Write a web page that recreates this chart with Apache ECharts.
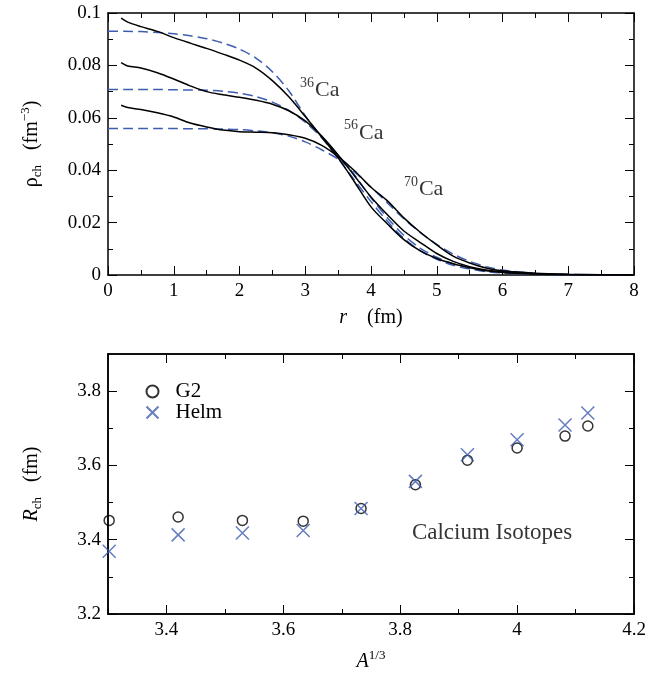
<!DOCTYPE html>
<html><head><meta charset="utf-8">
<script src="https://cdn.jsdelivr.net/npm/echarts@6/dist/echarts.min.js"></script>
<style>html,body{margin:0;padding:0;background:#fff}#c{width:660px;height:673px}</style>
</head><body><div id="c"></div>
<script>
// ---- Top panel: charge densities (r in fm, rho in fm^-3) ----
const rSolid = [0.2,0.3,0.5,0.75,1.0,1.25,1.5,1.75,2.0,2.25,2.5,2.75,3.0,3.25,3.5,3.75,4.0,4.25,4.5,4.75,5.0,5.25,5.5,5.75,6.0,6.5,7.0,7.5,8.0];
const rhoG2_36 = [0.098,0.0965,0.0948,0.093,0.0906,0.0885,0.0865,0.0843,0.082,0.079,0.0742,0.068,0.0605,0.0527,0.0447,0.0355,0.026,0.0195,0.0135,0.0092,0.0063,0.0043,0.0028,0.0016,0.0010,0.0004,0.0001,0,0];
const rhoG2_56 = [0.0811,0.0798,0.079,0.0772,0.0748,0.0722,0.0700,0.0688,0.0678,0.0667,0.0652,0.0627,0.0588,0.053,0.0458,0.0378,0.0298,0.023,0.0168,0.0124,0.0082,0.0052,0.0032,0.0019,0.0012,0.0005,0.0002,0.0001,0];
const rhoG2_70 = [0.0648,0.0639,0.0632,0.0619,0.0603,0.058,0.0565,0.0553,0.0547,0.0545,0.0543,0.0535,0.0522,0.0495,0.0452,0.0398,0.0335,0.0283,0.0218,0.0163,0.0115,0.0072,0.0046,0.0027,0.0016,0.0007,0.0003,0.0001,0];
const rHelm = [0,0.25,0.5,0.75,1.0,1.25,1.5,1.75,2.0,2.25,2.5,2.75,3.0,3.25,3.5,3.75,4.0,4.25,4.5,4.75,5.0,5.25,5.5,5.75,6.0,6.5,7.0,7.5,8.0];
const rhoHelm36 = [0.093,0.093,0.0929,0.0926,0.0921,0.0913,0.0902,0.0885,0.0862,0.0828,0.0776,0.0703,0.0608,0.0525,0.0445,0.0362,0.028,0.0205,0.014,0.0092,0.006,0.0037,0.0023,0.0013,0.0008,0.0003,0.0001,0,0];
const rhoHelm56 = [0.0708,0.0708,0.0708,0.0708,0.0707,0.0706,0.0705,0.0701,0.0694,0.0681,0.066,0.0628,0.0583,0.0525,0.0458,0.0382,0.0295,0.0218,0.0152,0.0102,0.0068,0.0043,0.0027,0.0016,0.0009,0.0003,0.0001,0,0];
const rhoHelm70 = [0.0559,0.0559,0.0559,0.0559,0.0559,0.0558,0.0558,0.0557,0.0555,0.055,0.0543,0.053,0.0508,0.0478,0.0442,0.0393,0.0335,0.0275,0.0215,0.0162,0.0117,0.008,0.0052,0.0032,0.0019,0.0006,0.0002,0.0001,0];
const isoMass = ['36','56','70'];
const isoLabelR = [2.92,3.59,4.5];
const isoLabelRho = [0.0705,0.0543,0.0327];

// ---- Bottom panel: charge radii vs A^(1/3) ----
const aThird = [3.302,3.420,3.530,3.634,3.733,3.826,3.915,4.000,4.082,4.121];
const rchG2 = [3.452,3.461,3.452,3.450,3.484,3.548,3.614,3.647,3.679,3.706];
const rchHelm = [3.369,3.413,3.418,3.425,3.484,3.557,3.629,3.669,3.709,3.741];
const botXMajor = [3.4,3.6,3.8,4.0,4.2];
const botXMinor = [3.3,3.5,3.7,3.9,4.1];
const botYMajor = [3.2,3.4,3.6,3.8];
const botYMinor = [3.3,3.5,3.7];
const panelText = 'Calcium Isotopes';
const panelTextPos = [3.82, 3.417];

const FONT = 'Liberation Serif';
const BLUE = '#3d5db0';
const zip = (a, b) => a.map((v, i) => [v, b[i]]);

const lineAx = {onZero: false, lineStyle: {color: '#000', width: 1.5}};
const tickIn = (len) => ({show: true, inside: true, length: len, lineStyle: {color: '#000', width: 1}});
const minorT = {show: true, splitNumber: 2, length: 5, lineStyle: {color: '#000', width: 1}};
const lab = {color: '#000', fontFamily: FONT, fontSize: 19, margin: 7};
const rich = {
  n: {fontFamily: FONT, fontSize: 20, color: '#000'},
  i: {fontFamily: FONT, fontSize: 20, color: '#000', fontStyle: 'italic'},
  sub: {fontFamily: FONT, fontSize: 13, color: '#000', padding: [11, 0, 0, 0]},
  sup: {fontFamily: FONT, fontSize: 13, color: '#000', padding: [0, 0, 13, 0]}
};

const G = [{left: 108, right: 26, top: 13, height: 262}, {left: 108, right: 26, top: 354, height: 261}];

const xAxis = [
  {gridIndex: 0, type: 'value', position: 'bottom', min: 0, max: 8, interval: 1,
   axisLine: lineAx, axisTick: tickIn(9), minorTick: minorT,
   splitLine: {show: false}, axisLabel: lab,
   name: '{i|r}{n|    (fm)}', nameLocation: 'middle', nameGap: 33, nameTextStyle: {rich}},
  {gridIndex: 0, type: 'value', position: 'top', min: 0, max: 8, interval: 1,
   axisLine: lineAx, axisTick: tickIn(9), minorTick: minorT,
   splitLine: {show: false}, axisLabel: {show: false}},
  {gridIndex: 1, type: 'value', position: 'bottom', min: 3.3, max: 4.2,
   axisLine: lineAx, axisTick: Object.assign(tickIn(9), {customValues: botXMajor}),
   splitLine: {show: false}, axisLabel: Object.assign({customValues: botXMajor}, lab),
   name: '{i|A}{sup|1/3}', nameLocation: 'middle', nameGap: 35, nameTextStyle: {rich}},
  {gridIndex: 1, type: 'value', position: 'bottom', min: 3.3, max: 4.2,
   axisLine: lineAx, axisTick: Object.assign(tickIn(5), {customValues: botXMinor}),
   splitLine: {show: false}, axisLabel: {show: false}},
  {gridIndex: 1, type: 'value', position: 'top', min: 3.3, max: 4.2,
   axisLine: lineAx, axisTick: Object.assign(tickIn(9), {customValues: botXMajor}),
   splitLine: {show: false}, axisLabel: {show: false}},
  {gridIndex: 1, type: 'value', position: 'top', min: 3.3, max: 4.2,
   axisLine: lineAx, axisTick: Object.assign(tickIn(5), {customValues: botXMinor}),
   splitLine: {show: false}, axisLabel: {show: false}}
];
const yAxis = [
  {gridIndex: 0, type: 'value', position: 'left', min: 0, max: 0.1, interval: 0.02,
   axisLine: lineAx, axisTick: tickIn(9), minorTick: minorT,
   splitLine: {show: false}, axisLabel: lab,
   name: '{n|ρ}{sub|ch}{n|   (fm}{sup|−3}{n|)}', nameLocation: 'middle', nameGap: 63, nameRotate: 90, nameTextStyle: {rich}},
  {gridIndex: 0, type: 'value', position: 'right', min: 0, max: 0.1, interval: 0.02,
   axisLine: lineAx, axisTick: tickIn(9), minorTick: minorT,
   splitLine: {show: false}, axisLabel: {show: false}},
  {gridIndex: 1, type: 'value', position: 'left', min: 3.2, max: 3.9,
   axisLine: lineAx, axisTick: Object.assign(tickIn(9), {customValues: botYMajor}),
   splitLine: {show: false}, axisLabel: Object.assign({customValues: botYMajor}, lab),
   name: '{i|R}{sub|ch}{n|   (fm)}', nameLocation: 'middle', nameGap: 64, nameRotate: 90, nameTextStyle: {rich}},
  {gridIndex: 1, type: 'value', position: 'left', min: 3.2, max: 3.9,
   axisLine: lineAx, axisTick: Object.assign(tickIn(5), {customValues: botYMinor}),
   splitLine: {show: false}, axisLabel: {show: false}},
  {gridIndex: 1, type: 'value', position: 'right', min: 3.2, max: 3.9,
   axisLine: lineAx, axisTick: Object.assign(tickIn(9), {customValues: botYMajor}),
   splitLine: {show: false}, axisLabel: {show: false}},
  {gridIndex: 1, type: 'value', position: 'right', min: 3.2, max: 3.9,
   axisLine: lineAx, axisTick: Object.assign(tickIn(5), {customValues: botYMinor}),
   splitLine: {show: false}, axisLabel: {show: false}}
];

const solidLine = (name, ys) => ({name, type: 'line', xAxisIndex: 0, yAxisIndex: 0, data: zip(rSolid, ys),
  showSymbol: false, smooth: 0.3, lineStyle: {color: '#000', width: 1.5}, z: 3});
const helmLine = (name, ys) => ({name, type: 'line', xAxisIndex: 0, yAxisIndex: 0, data: zip(rHelm, ys),
  showSymbol: false, smooth: 0.3, lineStyle: {color: BLUE, width: 1.5, type: [10, 5]}, z: 2});

const series = [
  helmLine('Helm 36', rhoHelm36), helmLine('Helm 56', rhoHelm56), helmLine('Helm 70', rhoHelm70),
  solidLine('G2 36', rhoG2_36), solidLine('G2 56', rhoG2_56), solidLine('G2 70', rhoG2_70),
  {type: 'scatter', xAxisIndex: 0, yAxisIndex: 0, symbolSize: 0, silent: true,
   data: isoMass.map((m, i) => [isoLabelR[i], isoLabelRho[i], m]),
   label: {show: true, position: 'right', distance: 0, formatter: p => '{sup|' + p.data[2] + '}{ca|Ca}',
     rich: {ca: {fontFamily: FONT, fontSize: 22, color: '#000'},
            sup: {fontFamily: FONT, fontSize: 14, color: '#000', padding: [0, 1, 14, 0]}}}},
  {name: 'G2', type: 'scatter', xAxisIndex: 2, yAxisIndex: 2, data: zip(aThird, rchG2), clip: false,
   symbol: 'circle', symbolSize: 10, itemStyle: {color: 'none', borderColor: '#000', borderWidth: 1.5}, z: 3},
  {name: 'Helm', type: 'scatter', xAxisIndex: 2, yAxisIndex: 2, data: zip(aThird, rchHelm), clip: false,
   symbol: 'path://M0,0L10,10M10,0L0,10', symbolSize: 13, symbolKeepAspect: true,
   itemStyle: {color: 'none', borderColor: BLUE, borderWidth: 1.5}, z: 4},
  {type: 'scatter', xAxisIndex: 2, yAxisIndex: 2, symbolSize: 0, silent: true, data: [panelTextPos],
   label: {show: true, position: 'right', distance: 0, formatter: panelText,
     fontFamily: FONT, fontSize: 23, color: '#000'}}
];

const chart = echarts.init(document.getElementById('c'), null, {renderer: 'canvas'});
chart.setOption({
  animation: false,
  backgroundColor: '#fff',
  grid: G,
  xAxis, yAxis, series,
  legend: {data: ['G2', 'Helm'], orient: 'vertical', left: 144, top: 381, padding: 0,
    itemWidth: 12, itemHeight: 12, itemGap: 0, selectedMode: false,
    textStyle: {fontFamily: FONT, fontSize: 21, color: '#000', padding: [0, 0, 0, 12]}}
});
</script></body></html>
